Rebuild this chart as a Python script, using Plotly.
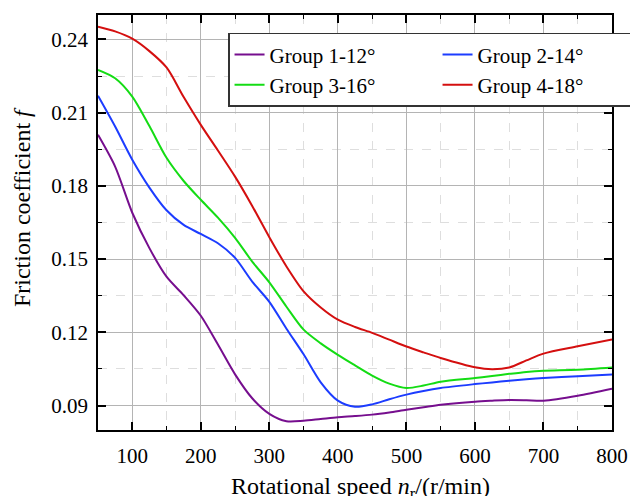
import plotly.graph_objects as go

speed = [50, 75, 100, 125, 150, 175, 200, 225, 250, 275, 300, 325, 350, 375,
         400, 425, 450, 475, 500, 525, 550, 600, 625, 650, 675, 700, 750, 800]

g1 = [0.2009, 0.1879, 0.1690, 0.1545, 0.1428, 0.1352, 0.1268, 0.1150, 0.1028, 0.0930,
      0.0866, 0.0836, 0.0838, 0.0845, 0.0852, 0.0857, 0.0863, 0.0872, 0.0883, 0.0893,
      0.0903, 0.0916, 0.0920, 0.0923, 0.0922, 0.0920, 0.0940, 0.0969]
g2 = [0.2169, 0.2043, 0.1907, 0.1793, 0.1700, 0.1640, 0.1603, 0.1565, 0.1505, 0.1408,
      0.1325, 0.1215, 0.1110, 0.0995, 0.0920, 0.0895, 0.0905, 0.0926, 0.0945, 0.0960,
      0.0972, 0.0988, 0.0995, 0.1002, 0.1008, 0.1013, 0.1020, 0.1027]
g3 = [0.2275, 0.2241, 0.2166, 0.2045, 0.1915, 0.1820, 0.1743, 0.1670, 0.1587, 0.1490,
      0.1405, 0.1305, 0.1211, 0.1155, 0.1108, 0.1065, 0.1023, 0.0990, 0.0972, 0.0982,
      0.0998, 0.1013, 0.1021, 0.1030, 0.1038, 0.1043, 0.1047, 0.1056]
g4 = [0.2452, 0.2433, 0.2403, 0.2352, 0.2285, 0.2164, 0.2050, 0.1945, 0.1838, 0.1718,
      0.1590, 0.1470, 0.1368, 0.1302, 0.1252, 0.1222, 0.1198, 0.1170, 0.1142, 0.1118,
      0.1095, 0.1057, 0.1049, 0.1056, 0.1085, 0.1113, 0.1143, 0.1171]

names = ["Group 1-12°", "Group 2-14°", "Group 3-16°", "Group 4-18°"]
colors = ["#760e8e", "#1c3cff", "#14dc14", "#d40f0f"]
series = [g1, g2, g3, g4]

FONT = "Liberation Serif"

fig = go.Figure()
for name, col, ys in zip(names, colors, series):
    fig.add_trace(go.Scatter(x=speed, y=ys, name=name, mode="lines",
                             line=dict(color=col, width=2, shape="spline", smoothing=0.8)))

axis_common = dict(
    showline=True, linecolor="black", linewidth=1.5, mirror="ticks",
    ticks="inside", ticklen=8, tickwidth=1.5, tickcolor="black",
    showgrid=True, gridcolor="#b4b4b4", gridwidth=1,
    zeroline=False,
    tickfont=dict(family=FONT, size=21, color="black"),
)

fig.update_xaxes(range=[50, 800], tick0=100, dtick=100,
                 minor=dict(dtick=50, tick0=50, ticks="inside", ticklen=4, tickwidth=1, tickcolor="black",
                            showgrid=True, gridcolor="#dedede", griddash="dash", gridwidth=1),
                 ticklabelstandoff=6,
                 **axis_common)
fig.update_yaxes(range=[0.08, 0.25], tick0=0.09, dtick=0.03, tickformat=".2f",
                 minor=dict(dtick=0.015, tick0=0.075, ticks="inside", ticklen=4, tickwidth=1, tickcolor="black",
                            showgrid=True, gridcolor="#dedede", griddash="dash", gridwidth=1),
                 ticklabelstandoff=4,
                 **axis_common)

fig.add_annotation(text="Rotational speed <i>n</i><sub>r</sub>/(r/min)", xref="paper", yref="paper",
                   x=0.51, y=-0.098, xanchor="center", yanchor="top", showarrow=False,
                   font=dict(family=FONT, size=24, color="black"))
fig.add_annotation(text="Friction coefficient <i>f</i>", xref="paper", yref="paper",
                   x=-0.148, y=0.537, xanchor="center", yanchor="middle", textangle=-90, showarrow=False,
                   font=dict(family=FONT, size=24, color="black"))

fig.update_layout(
    width=630, height=496,
    margin=dict(l=98, r=18, t=15, b=66, autoexpand=False),
    paper_bgcolor="white", plot_bgcolor="white",
    showlegend=True,
    legend=dict(orientation="h", x=0.253, y=0.957, xanchor="left", yanchor="top",
                entrywidth=163, entrywidthmode="pixels",
                bgcolor="white", bordercolor="#333333", borderwidth=1.5,
                font=dict(family=FONT, size=21, color="black"),
                tracegroupgap=0, itemwidth=30),
)

fig.write_html("out.html")
